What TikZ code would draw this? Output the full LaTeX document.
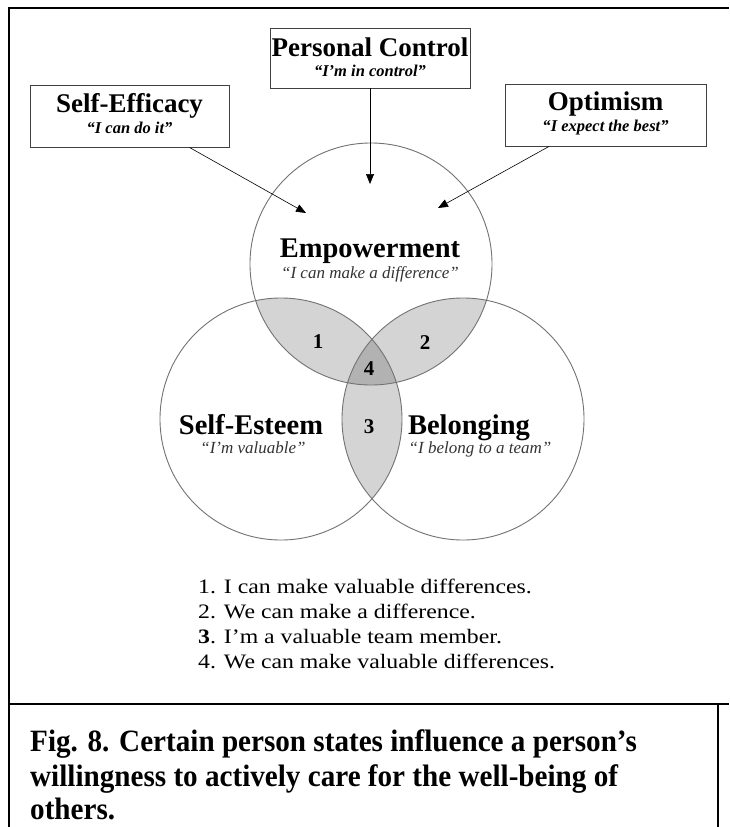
\documentclass[tikz,border=0pt]{standalone}
\usepackage{fontspec}
\setmainfont{Liberation Serif}
\usetikzlibrary{arrows.meta,calc}
\definecolor{lensgray}{gray}{0.83}
\definecolor{coregray}{gray}{0.70}
\definecolor{ringgray}{gray}{0.45}
\definecolor{quotegray}{gray}{0.2}
\newcommand\ttlfont{\fontsize{27}{30}\selectfont\bfseries}
\newcommand\bqfont{\fontsize{16.5}{20}\selectfont\bfseries\itshape}
\newcommand\vnfont{\fontsize{28.5}{32}\selectfont\bfseries}
\newcommand\vqfont{\fontsize{17}{20}\selectfont\itshape\color{quotegray}}
\newcommand\numfont{\fontsize{21}{24}\selectfont\bfseries}
\newcommand\lgfont{\fontsize{20.5}{24}\selectfont}
\newcommand\capfont{\fontsize{31}{36}\selectfont\bfseries}
\begin{document}
\begin{tikzpicture}[x=1pt,y=-1pt,
  box/.style={draw=black!75, line width=0.9pt, fill=white, inner sep=0pt},
  ring/.style={circle, draw=ringgray, line width=0.9pt, minimum size=242pt, inner sep=0pt, outer sep=0pt},
  arr/.style={-{Triangle[length=10pt,width=8pt]}, line width=0.6pt},
  frameline/.style={line width=2pt},
  txt/.style={inner sep=0pt, anchor=base},
  lg/.style={inner sep=0pt, anchor=base west},
]
\useasboundingbox (0,0) rectangle (729,827);
\fill[white] (0,0) rectangle (729,827);

% frame
\draw[frameline] (729,8) -- (9,8) -- (9,827);
\draw[frameline] (9,704) -- (729,704);
\draw[frameline] (718,704) -- (718,827);

% Venn fills
\begin{scope}
  \clip (371,264) circle (121pt);
  \fill[lensgray] (281,419) circle (121pt);
  \fill[lensgray] (463,419) circle (121pt);
\end{scope}
\begin{scope}
  \clip (281,419) circle (121pt);
  \fill[lensgray] (463,419) circle (121pt);
\end{scope}
\begin{scope}
  \clip (371,264) circle (121pt);
  \clip (281,419) circle (121pt);
  \fill[coregray] (463,419) circle (121pt);
\end{scope}

% circles
\node[ring] (emp) at (371,264) {};
\node[ring] (est) at (281,419) {};
\node[ring] (bel) at (463,419) {};

% boxes
\node[box, minimum width=200pt, minimum height=60pt] (pc) at (370,58) {};
\node[box, minimum width=199pt, minimum height=62pt] (se) at (129.5,116) {};
\node[box, minimum width=201pt, minimum height=62pt] (op) at (605.5,115) {};

\node[txt] (pct) at (370,56) {\ttlfont Personal Control};
\node[txt] (pcq) at (370,76) {\bqfont “I’m in control”};
\node[txt] (set) at (129.5,112) {\ttlfont Self-Efficacy};
\node[txt] (seq) at (129.5,133) {\bqfont “I can do it”};
\node[txt] (opt) at (605.5,110) {\ttlfont Optimism};
\node[txt] (opq) at (605.5,131) {\bqfont “I expect the best”};

% arrows
\coordinate (tSE) at (306,213);
\coordinate (tPC) at (370,184);
\coordinate (tOP) at (438,208);
\draw[arr] ($(se.south west)!0.8!(se.south east)$) -- (tSE);
\draw[arr] (pc.south) -- (tPC);
\draw[arr] ($(op.south west)!0.22!(op.south east)$) -- (tOP);

% Venn labels
\node[txt] (empt) at (370,257) {\vnfont Empowerment};
\node[txt] (empq) at (370,278) {\vqfont “I can make a difference”};
\node[txt] (estt) at (251,434) {\vnfont Self-Esteem};
\node[txt] (estq) at (253,453) {\vqfont “I’m valuable”};
\node[txt] (belt) at (469,434) {\vnfont Belonging};
\node[txt] (belq) at (480,453) {\vqfont “I belong to a team”};

\node[txt] (n1) at (318,348) {\numfont 1};
\node[txt] (n2) at (425,349) {\numfont 2};
\node[txt] (n4) at (369,375) {\numfont 4};
\node[txt] (n3) at (369,433) {\numfont 3};

% legend
\node[lg] (l1) at (198,593) {\lgfont\scalebox{1.16}[1]{1. I can make valuable differences.}};
\node[lg] (l2) at (198,618) {\lgfont\scalebox{1.16}[1]{2. We can make a difference.}};
\node[lg] (l3) at (198,643) {\lgfont\scalebox{1.16}[1]{\textbf{3}. I’m a valuable team member.}};
\node[lg] (l4) at (198,668) {\lgfont\scalebox{1.16}[1]{4. We can make valuable differences.}};

% caption
\node[lg] (c1) at (30,751) {\capfont\scalebox{0.94}[1]{Fig. 8. Certain person states influence a person’s}};
\node[lg] (c2) at (30,786) {\capfont\scalebox{0.94}[1]{willingness to actively care for the well-being of}};
\node[lg] (c3) at (30,819) {\capfont\scalebox{0.94}[1]{others.}};
\end{tikzpicture}
\end{document}
